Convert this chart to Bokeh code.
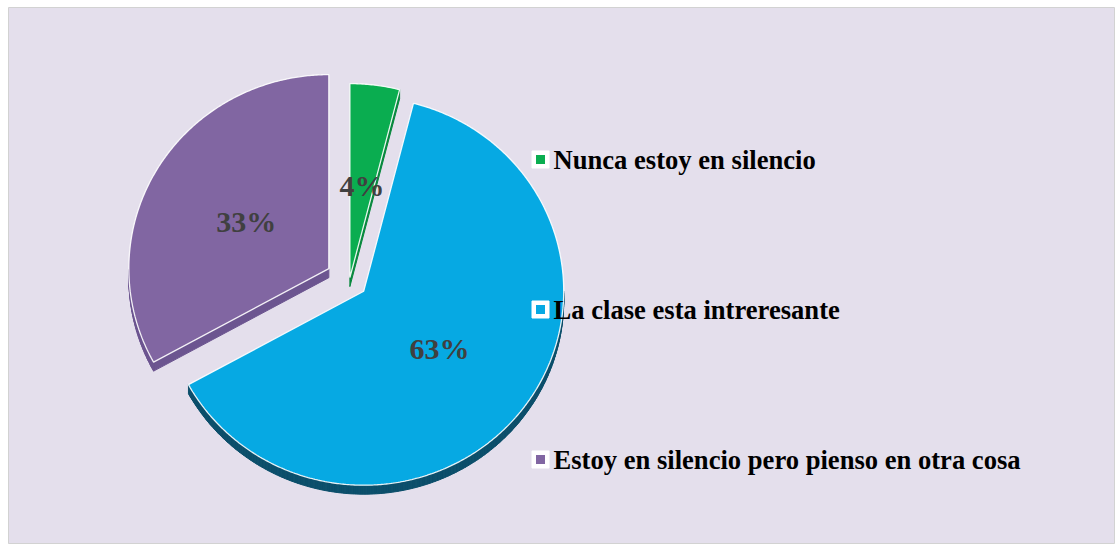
import math
from bokeh.plotting import figure
from bokeh.models import Range1d, ColumnDataSource
from bokeh.core.properties import value
from bokeh.embed import file_html
from bokeh.resources import INLINE

# ---------------- data ----------------
categories = ["Nunca estoy en silencio",
              "La clase esta intreresante",
              "Estoy en silencio pero pienso en otra cosa"]
values = [4, 63, 33]
pct_labels = ["4%", "63%", "33%"]

# ---------------- style ----------------
top_colors = ["#0AAD50", "#06A9E3", "#8166A2"]
side_colors = ["#07883D", "#0C4F6B", "#6C5590"]
explode = [3, 18, 24]

FW, FH = 1106, 537       # frame size
ML, MT, MR = 8, 7, 2     # white margins around the chart area
cx, cy = 341, 273        # pie centre (frame units, y down)
rx, ry = 200, 194        # tilted pie radii
depth = 9                # 3D thickness
label_frac = 0.48

p = figure(width=FW + ML + MR, height=FH + MT,
           x_range=Range1d(0, FW), y_range=Range1d(FH, 0),
           output_backend="svg", toolbar_location=None,
           min_border_left=ML, min_border_top=MT, min_border_right=MR,
           min_border_bottom=0,
           x_axis_location=None, y_axis_location=None)
p.grid.visible = False
p.background_fill_color = "#E4DFEC"
p.border_fill_color = "white"
p.outline_line_color = "#D2D2D2"
p.outline_line_width = 1

total = float(sum(values))
start = 0.0
tops_x, tops_y = [], []
side_x, side_y, side_c = [], [], []
lab_x, lab_y = [], []
for i, v in enumerate(values):
    sweep = 360.0 * v / total
    t0, t1 = start, start + sweep
    tm = math.radians((t0 + t1) / 2)
    ax = cx + explode[i] * math.sin(tm)
    ay = cy - explode[i] * math.cos(tm) * ry / rx
    n = max(8, int(sweep * 2))
    xs, ys = [ax], [ay]
    for k in range(n + 1):
        a = math.radians(t0 + (t1 - t0) * k / n)
        xs.append(ax + rx * math.sin(a))
        ys.append(ay - ry * math.cos(a))
    tops_x.append(xs)
    tops_y.append(ys)
    # side faces: edges whose outward normal points down
    m = len(xs)
    area = 0.0
    for k in range(m):
        x1, y1 = xs[k], ys[k]
        x2, y2 = xs[(k + 1) % m], ys[(k + 1) % m]
        area += x1 * y2 - x2 * y1
    sgn = 1 if area > 0 else -1
    for k in range(m):
        x1, y1 = xs[k], ys[k]
        x2, y2 = xs[(k + 1) % m], ys[(k + 1) % m]
        dx = x2 - x1
        ny = -dx * sgn
        if ny > 0:
            side_x.append([x1, x2, x2, x1])
            side_y.append([y1, y2, y2 + depth, y1 + depth])
            side_c.append(side_colors[i])
    lab_x.append(ax + label_frac * rx * math.sin(tm))
    lab_y.append(ay - label_frac * ry * math.cos(tm))
    start = t1

p.patches(xs="xs", ys="ys", fill_color="c", line_color="c", line_width=1,
          source=ColumnDataSource(dict(xs=side_x, ys=side_y, c=side_c)))
p.patches(xs="xs", ys="ys", fill_color="c", line_color="white", line_width=1.3,
          line_alpha=0.9,
          source=ColumnDataSource(dict(xs=tops_x, ys=tops_y, c=top_colors)))

p.text(x=lab_x, y=lab_y, text=pct_labels, text_font=value("Liberation Serif"),
       text_font_style="bold", text_font_size="30px", text_color="#404040",
       text_align="center", text_baseline="middle")

# ---------------- legend ----------------
leg_x, leg_y0, leg_dy = 532, 152, 150
leg_ys = [leg_y0 + leg_dy * i for i in range(len(categories))]
p.scatter(x=[leg_x] * len(categories), y=leg_ys, marker="square", size=17,
          fill_color="white", line_color="white")
p.scatter(x=[leg_x] * len(categories), y=leg_ys, marker="square", size=9,
          fill_color=top_colors, line_color=None)
p.text(x=[leg_x + 13] * len(categories), y=leg_ys, text=categories,
       text_font=value("Liberation Serif"), text_font_style="bold",
       text_font_size="26.6px", text_color="#000000",
       text_align="left", text_baseline="middle")

open("out.html", "w").write(file_html(p, INLINE))
